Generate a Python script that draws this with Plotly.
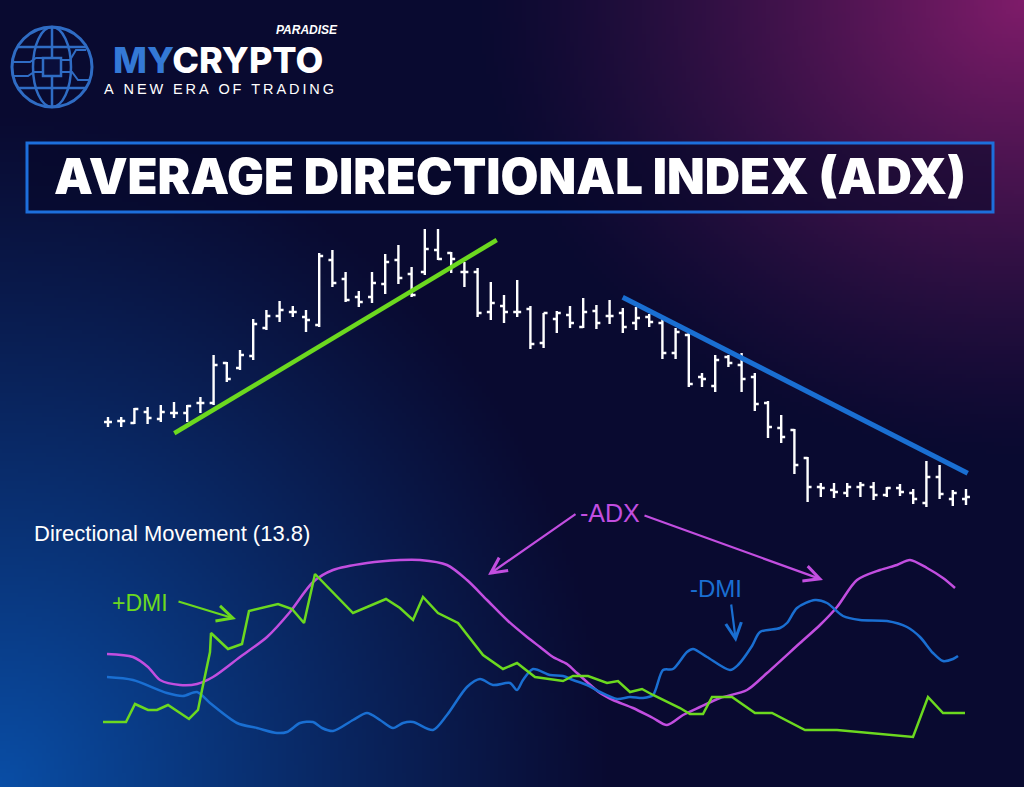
import numpy as np
import zlib, struct, base64
import plotly.graph_objects as go

# ---------------- DATA ----------------
bar_idx = list(range(66))
opens = [89, 89.5, 88.5, 94, 90.5, 93.5, 93.5, 98.5, 98.5, 118.5, 116, 122, 136, 142, 144, 141.5,
         137.5, 170, 160.5, 151.5, 151.5, 158, 170, 163, 164, 175, 173.5, 164, 164, 144, 147, 144,
         145.5, 128.5, 140.5, 142.5, 136.5, 144.5, 142, 143.5, 138.5, 141.5, 138.5, 123.5, 132.5, 111.5,
         107, 121.5, 117.5, 111.5, 98.5, 86, 85, 71, 56.5, 55, 53.5, 56.5, 56.5, 52.5, 56, 53.5,
         48.5, 61.5, 50.5, 50.5]
highs = [91.5, 91.5, 96, 96.5, 97.5, 99, 97.5, 101.5, 122.5, 119, 125, 140.5, 145, 149.5, 147, 145,
         173.5, 175, 164, 154.5, 164, 173, 177.5, 166.5, 185.5, 185.5, 174, 169, 166, 159, 152.5, 160,
         147, 143.5, 144.5, 147, 151, 147.5, 150, 146, 146.5, 143, 140.5, 136, 133.5, 113.5,
         122.5, 122.5, 123.5, 113.5, 99.5, 92.5, 85.5, 71.5, 58.5, 58.5, 58.5, 59, 59, 56.5, 58, 55.5,
         69.5, 67.5, 55, 55.5]
lows = [86.5, 86.5, 88, 88, 89, 91, 89, 93.5, 97.5, 109, 115, 120, 135, 139, 141.5, 134,
        136.5, 156.5, 149, 146.5, 148.5, 153, 158, 151.5, 162.5, 170, 163.5, 156.5, 141.5, 140, 138.5, 141.5,
        125.5, 126, 133.5, 136, 136, 135.5, 138, 133.5, 135, 136.5, 120.5, 120.5, 106.5, 106.5,
        104, 116.5, 104, 94.5, 81, 78.5, 63, 49, 51.5, 51, 51.5, 51.5, 50, 51.5, 52, 48,
        46.5, 50.5, 47, 47.5]
closes = [89, 89.5, 95.5, 91, 94, 93.5, 97, 98.5, 117.5, 110.5, 122.5, 138, 142, 145, 144, 140,
          172, 158.5, 150, 149, 158.5, 169, 161, 152.5, 175.5, 170.5, 170.5, 164, 143.5, 148.5, 144, 144,
          128, 143.5, 143.5, 138.5, 144, 138.5, 142, 136.5, 141, 139, 123.5, 134, 108, 110.5,
          120, 118.5, 110.5, 98, 86.5, 81.5, 67.5, 56.5, 56, 54, 56.5, 57.5, 52.5, 56, 54, 50.5,
          61.5, 53, 53.5, 51.5]

# trend lines (bar index, price)
uptrend_x = [5.02, 29.45]
uptrend_y = [83.35, 180.0]
downtrend_x = [38.99, 65.13]
downtrend_y = [151.35, 63.35]

# Directional movement panel (session, value)
pdmi_t = [0.3, 2.6, 3.5, 4.8, 5.7, 6.8, 8.9, 9.8, 10.2, 11.0, 11.1, 12.8, 14.2, 14.9, 17.8, 19.2,
          20.4, 21.5, 25.3, 28.6, 30.0, 31.3, 32.3, 33.8, 35.8, 38.3, 40.3, 41.7, 43.5, 46.3, 47.3,
          48.8, 50.7, 51.8, 53.0, 54.2, 55.3, 58.0, 59.0, 60.3, 61.2, 63.2, 65.5, 67.2, 70.5, 73.7,
          81.3, 82.8, 84.3, 86.5]
pdmi_v = [9.6, 9.6, 13.2, 12, 12, 13, 10.2, 12, 16, 23.6, 27.4, 24.2, 25.2, 31.8, 33.2, 32.2,
          29.4, 39.2, 31.4, 34.2, 32.4, 30, 34.6, 31.4, 29.4, 23, 20.2, 21.4, 18.6, 17.8, 18.8,
          18.8, 17.4, 17.8, 15.6, 16.2, 15, 12.4, 11.2, 11.2, 14.6, 14.6, 11.4, 11.4, 8, 8,
          6.6, 14.6, 11.4, 11.4]

ndmi_t = [0.7, 3.3, 6.7, 8.3, 9.7, 11.0, 13.7, 15.7, 17.7, 18.7, 20.0, 21.3, 22.2, 23.3, 25.3, 26.7,
          28.0, 29.3, 30.3, 31.3, 33.3, 34.7, 36.7, 38.0, 39.3, 41.0, 41.7, 42.3, 43.3, 45.0, 46.3,
          47.3, 48.7, 50.0, 51.7, 53.0, 54.3, 55.3, 56.3, 57.3, 58.7, 59.3, 60.7, 63.0, 63.8, 65.2,
          66.0, 68.0, 68.7, 69.7, 71.5, 72.7, 74.3, 76.0, 78.7, 80.7, 82.0, 83.3, 84.3, 85.3, 85.8]
ndmi_v = [18.6, 18, 15.4, 14.8, 15.6, 13.4, 9.4, 8.4, 7.4, 7.6, 9.4, 9.6, 8.4, 7.8, 10, 11.4,
          10, 8.4, 9.4, 9.6, 8, 11, 16.6, 18.2, 17, 17.4, 16, 18, 20.2, 19, 18.8,
          18, 17, 15.6, 14.2, 14.6, 14.4, 15, 20, 20.2, 23.6, 24.2, 22.6, 20, 21, 24.8,
          27.6, 28.4, 29.4, 32.4, 34, 33.4, 30.8, 30, 29.8, 28.6, 26.6, 23.4, 21.8, 22.2, 22.8]

adx_t = [0.7, 3.3, 4.8, 6.0, 8.0, 9.7, 11.3, 14.0, 16.7, 19.0, 21.3, 23.3, 26.7, 30.0, 32.0, 34.7,
         36.7, 38.7, 40.7, 42.7, 44.0, 45.3, 46.7, 47.7, 48.7, 50.0, 51.3, 53.3, 55.3, 56.7, 58.3,
         60.0, 62.0, 64.7, 66.7, 70.0, 72.0, 73.7, 75.7, 78.0, 79.7, 81.0, 82.7, 84.3, 85.5]
adx_v = [23.2, 22.6, 20.6, 18, 17, 17.2, 18.6, 22.6, 26.6, 31.6, 37.6, 40, 41.4, 42, 42, 41,
         38, 34, 30, 26.6, 24.6, 22.6, 21.2, 19.4, 17.6, 15.4, 14, 12.4, 10.4, 9, 11,
         12.6, 14.4, 16, 19.4, 25.4, 29, 32.6, 38, 40, 41, 42, 40.4, 38.4, 36.4]

title_text = "AVERAGE DIRECTIONAL INDEX (ADX)"
panel_label = "Directional Movement (13.8)"

# ---------------- COLOURS ----------------
GREEN = "#6cd91f"
BLUE = "#1a6fd2"
PURPLE = "#c24ee0"
LOGO_BLUE = "#2f6cc4"
BASE = (9, 10, 48)

W_PX, H_PX = 1024, 787


def P(x):
    return x / W_PX


def Q(y):
    return 1 - y / H_PX


# ---------------- background gradient image ----------------
def png_data_uri(arr):
    h, w, _ = arr.shape
    raw = b"".join(b"\x00" + arr[i].tobytes() for i in range(h))

    def chunk(t, d):
        c = struct.pack(">I", len(d)) + t + d
        return c + struct.pack(">I", zlib.crc32(t + d) & 0xFFFFFFFF)

    data = (b"\x89PNG\r\n\x1a\n"
            + chunk(b"IHDR", struct.pack(">IIBBBBB", w, h, 8, 2, 0, 0, 0))
            + chunk(b"IDAT", zlib.compress(raw, 9))
            + chunk(b"IEND", b""))
    return "data:image/png;base64," + base64.b64encode(data).decode()


gw, gh = 256, 197
yy, xx = np.mgrid[0:gh, 0:gw].astype(float)
px = xx * W_PX / (gw - 1)
py = yy * H_PX / (gh - 1)
d1 = np.sqrt((W_PX - px) ** 2 + (py * 1.2) ** 2)
wp = np.clip(1 - d1 / 560, 0, 1) ** 1.3
d2 = np.sqrt((px * 1.1) ** 2 + (H_PX - py) ** 2)
wb = np.clip(1 - d2 / 680, 0, 1) ** 1.1
col = (np.array(BASE, float)[None, None, :]
       + wp[..., None] * np.array([118, 18, 58])[None, None, :]
       + wb[..., None] * np.array([0, 68, 118])[None, None, :])
bg_img = np.clip(col, 0, 255).astype(np.uint8)

# ---------------- FIGURE ----------------
fig = go.Figure()

fig.add_trace(go.Ohlc(
    x=bar_idx, open=opens, high=highs, low=lows, close=closes,
    increasing=dict(line=dict(color="white", width=2.4)),
    decreasing=dict(line=dict(color="white", width=2.4)),
    tickwidth=0.3, xaxis="x", yaxis="y", hoverinfo="skip", showlegend=False,
))

fig.add_trace(go.Scatter(x=uptrend_x, y=uptrend_y, mode="lines",
                         line=dict(color=GREEN, width=4.5), xaxis="x", yaxis="y",
                         hoverinfo="skip", showlegend=False))
fig.add_trace(go.Scatter(x=downtrend_x, y=downtrend_y, mode="lines",
                         line=dict(color=BLUE, width=5), xaxis="x", yaxis="y",
                         hoverinfo="skip", showlegend=False))

fig.add_trace(go.Scatter(x=adx_t, y=adx_v, mode="lines",
                         line=dict(color=PURPLE, width=2.5, shape="spline", smoothing=0.8),
                         xaxis="x2", yaxis="y2", hoverinfo="skip", showlegend=False))
fig.add_trace(go.Scatter(x=ndmi_t, y=ndmi_v, mode="lines",
                         line=dict(color=BLUE, width=2.5, shape="spline", smoothing=0.8),
                         xaxis="x2", yaxis="y2", hoverinfo="skip", showlegend=False))
fig.add_trace(go.Scatter(x=pdmi_t, y=pdmi_v, mode="lines",
                         line=dict(color=GREEN, width=2.5),
                         xaxis="x2", yaxis="y2", hoverinfo="skip", showlegend=False))

shapes = []
# title box
shapes.append(dict(type="rect", xref="paper", yref="paper",
                   x0=P(27), x1=P(993), y0=Q(212), y1=Q(143),
                   line=dict(color="#1d6fdc", width=3), fillcolor="rgba(5,8,40,0.55)", layer="below"))
# globe logo
shapes.append(dict(type="circle", xref="paper", yref="paper",
                   x0=P(12), x1=P(92), y0=Q(107), y1=Q(27),
                   line=dict(color=LOGO_BLUE, width=3)))
shapes.append(dict(type="circle", xref="paper", yref="paper",
                   x0=P(33), x1=P(71), y0=Q(107), y1=Q(27),
                   line=dict(color=LOGO_BLUE, width=2.5)))
shapes.append(dict(type="line", xref="paper", yref="paper",
                   x0=P(52), x1=P(52), y0=Q(107), y1=Q(27),
                   line=dict(color=LOGO_BLUE, width=2.5)))
shapes.append(dict(type="line", xref="paper", yref="paper",
                   x0=P(18), x1=P(86), y0=Q(47), y1=Q(47),
                   line=dict(color=LOGO_BLUE, width=2.5)))
shapes.append(dict(type="line", xref="paper", yref="paper",
                   x0=P(18), x1=P(86), y0=Q(88), y1=Q(88),
                   line=dict(color=LOGO_BLUE, width=2.5)))
shapes.append(dict(type="path", xref="paper", yref="paper",
                   path=f"M{P(12)},{Q(62)} L{P(30)},{Q(62)} L{P(36)},{Q(58)} L{P(44)},{Q(58)}"
                        f" M{P(14)},{Q(76)} L{P(28)},{Q(76)} L{P(34)},{Q(72)} L{P(44)},{Q(72)}"
                        f" M{P(60)},{Q(60)} L{P(70)},{Q(60)} L{P(76)},{Q(50)} L{P(86)},{Q(50)}"
                        f" M{P(60)},{Q(72)} L{P(72)},{Q(72)} L{P(78)},{Q(80)} L{P(90)},{Q(80)}",
                   line=dict(color=LOGO_BLUE, width=2)))
shapes.append(dict(type="rect", xref="paper", yref="paper",
                   x0=P(43), x1=P(61), y0=Q(76), y1=Q(58),
                   line=dict(color=LOGO_BLUE, width=2.5), fillcolor="#0a0e3a"))

annotations = []
FONT = "Liberation Sans, Arial, sans-serif"
annotations.append(dict(xref="paper", yref="paper", x=P(339), y=Q(30), xanchor="right", yanchor="middle",
                        text="<i><b>PARADISE</b></i>", showarrow=False, borderpad=0,
                        font=dict(family=FONT, size=12, color="white")))
annotations.append(dict(xref="paper", yref="paper", x=P(112), y=Q(60), xanchor="left", yanchor="middle",
                        text="<span style='color:#3479d6'>MY</span>CRYPTO", showarrow=False, borderpad=0,
                        font=dict(family="Inter, " + FONT, size=36, color="white", weight=800)))
annotations.append(dict(xref="paper", yref="paper", x=P(103), y=Q(89), xanchor="left", yanchor="middle",
                        text="\u2009".join("A NEW ERA OF TRADING"), showarrow=False, borderpad=0,
                        font=dict(family=FONT, size=14.5, color="white")))
annotations.append(dict(xref="paper", yref="paper", x=P(510), y=Q(177), xanchor="center", yanchor="middle",
                        text=title_text, showarrow=False,
                        font=dict(family="Inter, " + FONT, size=49, color="white", weight=900)))
annotations.append(dict(xref="paper", yref="paper", x=P(32), y=Q(533), xanchor="left", yanchor="middle",
                        text=panel_label, showarrow=False,
                        font=dict(family=FONT, size=22, color="white")))
annotations.append(dict(xref="paper", yref="paper", x=P(140), y=Q(603), xanchor="center", yanchor="middle",
                        text="+DMI", showarrow=False,
                        font=dict(family=FONT, size=23, color=GREEN)))
annotations.append(dict(xref="paper", yref="paper", x=P(610), y=Q(513), xanchor="center", yanchor="middle",
                        text="-ADX", showarrow=False,
                        font=dict(family=FONT, size=25, color=PURPLE)))
annotations.append(dict(xref="paper", yref="paper", x=P(716), y=Q(588), xanchor="center", yanchor="middle",
                        text="-DMI", showarrow=False,
                        font=dict(family=FONT, size=24, color=BLUE)))


def arrow(tail, head, color):
    return dict(xref="paper", yref="paper", x=P(head[0]), y=Q(head[1]),
                ax=tail[0] - head[0], ay=tail[1] - head[1], axref="pixel", ayref="pixel",
                text="", showarrow=True, arrowhead=5, arrowsize=1.4, arrowwidth=2.2,
                arrowcolor=color, standoff=0, startstandoff=0)


annotations.append(arrow((177, 601), (236, 619), GREEN))
annotations.append(arrow((577, 513), (488, 575), PURPLE))
annotations.append(arrow((643, 515), (823, 580), PURPLE))
annotations.append(arrow((731, 603), (736, 642), BLUE))

fig.update_layout(
    width=W_PX, height=H_PX,
    margin=dict(l=0, r=0, t=0, b=0),
    paper_bgcolor="rgb(9,10,48)",
    plot_bgcolor="rgba(0,0,0,0)",
    showlegend=False,
    xaxis=dict(range=[-108 / 13.2, (W_PX - 108) / 13.2], domain=[0, 1], visible=False,
               rangeslider=dict(visible=False), fixedrange=True),
    yaxis=dict(range=[-93.5, 300], domain=[0, 1], visible=False, fixedrange=True),
    xaxis2=dict(range=[-10, 92.4], domain=[0, 1], overlaying="x", anchor="y2", visible=False,
                fixedrange=True),
    yaxis2=dict(range=[-3.4, 154], domain=[0, 1], overlaying="y", anchor="x2", visible=False,
                fixedrange=True),
    images=[dict(source=png_data_uri(bg_img), xref="paper", yref="paper", x=0, y=1,
                 sizex=1, sizey=1, sizing="stretch", layer="below", xanchor="left", yanchor="top")],
    shapes=shapes,
    annotations=annotations,
)

fig.write_html("out.html")
